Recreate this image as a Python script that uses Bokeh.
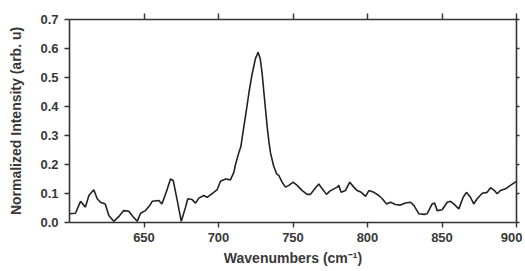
from bokeh.plotting import figure
from bokeh.models import Range1d, LinearAxis, FixedTicker, CustomJSTickFormatter
from bokeh.embed import file_html
from bokeh.resources import INLINE

wavenumber = [600, 604, 607.4, 610.7, 613, 616.3, 618.6, 620.8, 624, 626.4, 629.7, 633,
              636.4, 639.8, 642, 645.4, 647.7, 651, 653.9, 655.5, 660, 662, 664.9, 667.8,
              669.6, 672.3, 675, 677.9, 679.4, 682.3, 684.6, 686.8, 690.1, 692.4, 696.8,
              699.1, 701.3, 704.7, 708, 710.3, 711.4, 713.6, 715, 717, 718.5, 720.5, 722.6,
              724.8, 726.6, 728, 729.3, 731, 732.7, 733.8, 734.9, 737, 739, 740.5, 742.7,
              745, 747.2, 750.1, 752.8, 756.2, 759.5, 761.7, 764.6, 767.3, 769.6, 772.5,
              774.7, 777.4, 779.7, 780.7, 782.3, 785.2, 788.1, 790.8, 793.1, 795.8, 798.7,
              800.9, 804.3, 807.6, 809.9, 812.8, 815.4, 818.8, 822.1, 825.5, 828.9, 831.1,
              834.5, 837.9, 840, 843.4, 845, 846.8, 850.1, 853.5, 855.7, 857.9, 861.3,
              864.2, 866.4, 869.1, 871.3, 873.6, 877, 880.3, 882.6, 885.2, 887, 889.2,
              892.6, 895.9, 900]
intensity = [0.030, 0.032, 0.073, 0.053, 0.093, 0.113, 0.082, 0.070, 0.064, 0.024, 0.004, 0.020,
             0.041, 0.039, 0.024, 0.004, 0.032, 0.041, 0.059, 0.073, 0.076, 0.064, 0.104, 0.150,
             0.145, 0.076, 0.004, 0.053, 0.082, 0.079, 0.067, 0.084, 0.093, 0.087, 0.104,
             0.113, 0.142, 0.150, 0.147, 0.173, 0.200, 0.240, 0.262, 0.330, 0.380, 0.450, 0.513,
             0.565, 0.587, 0.565, 0.513, 0.420, 0.329, 0.280, 0.240, 0.195, 0.168, 0.162, 0.139,
             0.122, 0.128, 0.139, 0.128, 0.110, 0.097, 0.097, 0.116, 0.133, 0.116, 0.097,
             0.108, 0.116, 0.122, 0.128, 0.104, 0.110, 0.139, 0.122, 0.110, 0.104, 0.090,
             0.110, 0.104, 0.093, 0.082, 0.064, 0.070, 0.062, 0.060, 0.067, 0.070, 0.059,
             0.030, 0.028, 0.030, 0.064, 0.067, 0.041, 0.044, 0.070, 0.073, 0.064, 0.047,
             0.087, 0.104, 0.087, 0.064, 0.082, 0.101, 0.104, 0.120, 0.110, 0.099, 0.110,
             0.116, 0.128, 0.142]

x_ticks = [650, 700, 750, 800, 850, 900]
y_ticks = [0.0, 0.1, 0.2, 0.3, 0.4, 0.5, 0.6, 0.7]

FONT = "Liberation Sans"
TXT = "#383838"
AX = "#333333"

p = figure(frame_width=447, frame_height=203, output_backend="svg", toolbar_location=None,
           x_range=Range1d(600, 900), y_range=Range1d(0, 0.7),
           x_axis_location=None, y_axis_location=None,
           min_border_left=69, min_border_right=0, min_border_top=19, min_border_bottom=0)
p.outline_line_color = None
p.xgrid.visible = False
p.ygrid.visible = False

p.line(wavenumber, intensity, line_color="#222222", line_width=1.6)

bottom = LinearAxis(ticker=FixedTicker(ticks=x_ticks),
                    axis_label="Wavenumbers (cm\u207b\u00b9)")
left = LinearAxis(ticker=FixedTicker(ticks=y_ticks),
                  axis_label="Normalized Intensity (arb. u)",
                  formatter=CustomJSTickFormatter(code="return tick.toFixed(1);"))
top = LinearAxis(ticker=FixedTicker(ticks=x_ticks),
                 formatter=CustomJSTickFormatter(code="return ' ';"))
right = LinearAxis(ticker=FixedTicker(ticks=y_ticks),
                   formatter=CustomJSTickFormatter(code="return ' ';"))
p.add_layout(bottom, "below")
p.add_layout(left, "left")
p.add_layout(top, "above")
p.add_layout(right, "right")

for ax in (bottom, left, top, right):
    ax.axis_line_color = AX
    ax.axis_line_width = 1.6
    ax.major_tick_line_color = AX
    ax.major_tick_line_width = 1.4
    ax.major_tick_in = 0
    ax.major_tick_out = 5
    ax.minor_tick_line_color = None
    ax.major_label_text_font = FONT
    ax.major_label_text_font_style = "bold"
    ax.major_label_text_font_size = "13px"
    ax.major_label_text_color = TXT
    ax.axis_label_text_font = FONT
    ax.axis_label_text_font_style = "bold"
    ax.axis_label_text_font_size = "14px"
    ax.axis_label_text_color = TXT

for ax in (top, right):
    ax.major_label_text_font_size = "1px"
    ax.major_label_standoff = 0
    ax.major_tick_out = 6
right.major_tick_out = 3

bottom.axis_label_standoff = 5
bottom.major_label_standoff = 5
left.axis_label_standoff = 13
left.major_label_standoff = 6

open("out.html", "w").write(file_html(p, INLINE))
